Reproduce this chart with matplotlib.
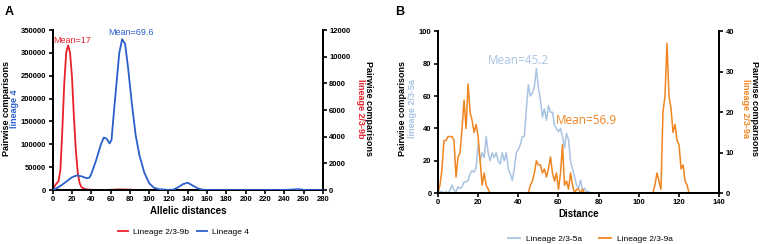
import matplotlib
matplotlib.use("Agg")
import matplotlib.pyplot as plt
from matplotlib.lines import Line2D

plt.rcParams['font.family'] = ['Liberation Sans', 'DejaVu Sans']

# ---- panel A data (allelic distances) ----
red_x = [0, 2, 4, 6, 8, 10, 12, 14, 16, 18, 20, 22, 24, 26, 28, 30, 34, 40, 50, 60, 70, 80, 90, 100, 280]
red_y = [0, 300, 500, 650, 1500, 4500, 8000, 10300, 10850, 10300, 8500, 5500, 3000, 1300, 500, 200, 60, 20, 10, 20, 50, 30, 10, 0, 0]

blue_x = [0, 5, 10, 15, 20, 25, 30, 35, 38, 40, 45, 50, 53, 56, 59, 61, 63, 66, 69, 72, 75, 78, 82, 86, 90, 95, 100,
          105, 110, 120, 125, 130, 135, 140, 145, 150, 155, 160, 180, 240, 250, 255, 260, 280]
blue_y = [0, 5000, 12000, 20000, 28000, 32000, 30000, 26000, 27000, 35000, 65000, 100000, 115000, 112000, 102000,
          110000, 160000, 230000, 300000, 330000, 320000, 270000, 190000, 120000, 75000, 38000, 15000,
          5000, 2000, 500, 1000, 6000, 13000, 16000, 10000, 4000, 1000, 300, 100, 300, 1500, 2000, 500, 0]

# ---- panel B data (distance) ----
lb_x = list(range(0, 77))
lb_y = [0, 1, 1, 0, 1, 0, 2, 5, 2, 1, 4, 3, 4, 7, 7, 8, 12, 14, 13, 16,
        30, 20, 25, 22, 35, 25, 20, 25, 22, 25, 20, 18, 25, 20, 25, 15, 12, 8, 15, 25,
        27, 30, 35, 35, 52, 67, 60, 62, 66, 77, 65, 58, 47, 52, 45, 54, 50, 50, 42, 40,
        38, 40, 35, 28, 37, 33, 20, 15, 10, 5, 3, 8, 2, 3, 1, 1, 0]

or_x = list(range(0, 126))
or_y = ([0, 2, 6, 13, 13, 14, 14, 14, 13, 4, 9, 10, 16, 23, 16, 27, 20, 18, 15, 17,
         14, 8, 2, 5, 2, 1] + [0] * 20 +
        [2, 3, 5, 8, 7, 7, 5, 6, 4, 6, 9, 5, 3, 5, 1, 5, 12, 2, 3, 1, 5, 2, 0, 1, 1, 0, 1] +
        [0] * 35 +
        [2, 5, 3, 1, 20, 24, 37, 24, 21, 15, 17, 13, 12, 6, 7, 3, 2, 0])
or_x = or_x[:len(or_y)]

RED = '#e8202a'
BLUE = '#2b5fcc'
LBLUE = '#a9c4e2'
ORANGE = '#f08520'

fig = plt.figure(figsize=(7.59, 2.44), dpi=100)


def style_axes(ax, ax2):
    for a in (ax, ax2):
        a.spines['top'].set_visible(False)
        for s in ('left', 'right', 'bottom'):
            a.spines[s].set_linewidth(1.4)
        a.tick_params(width=1.2, length=3, labelsize=5.5, pad=1.5)
        for lab in a.get_xticklabels() + a.get_yticklabels():
            lab.set_fontweight('bold')


# ---- panel A ----
axA = fig.add_axes([0.0694, 0.221, 0.356, 0.656])
axA2 = axA.twinx()
axA.plot(blue_x, blue_y, color=BLUE, lw=1.3, zorder=3)
axA2.plot(red_x, red_y, color=RED, lw=1.3)
axA.set_zorder(axA2.get_zorder() + 1)
axA.patch.set_visible(False)
axA.set_xlim(0, 280)
axA.set_ylim(0, 350000)
axA2.set_ylim(0, 12000)
axA.set_xticks(range(0, 281, 20))
axA.set_yticks(range(0, 350001, 50000))
axA2.set_yticks(range(0, 12001, 2000))
style_axes(axA, axA2)
axA.set_xlabel('Allelic distances', fontsize=7, fontweight='bold', labelpad=2)
axA.text(20, 328000, 'Mean=17', color=RED, fontsize=6.5, ha='center', va='center')
axA.text(81, 345000, 'Mean=69.6', color=BLUE, fontsize=6.5, ha='center', va='center')

fig.text(0.008, 0.555, 'Pairwise comparisons', rotation=90, fontsize=6.5, fontweight='bold', ha='center', va='center')
fig.text(0.019, 0.555, 'lineage 4', rotation=90, fontsize=6.5, fontweight='bold', color=BLUE, ha='center', va='center')
fig.text(0.486, 0.555, 'Pairwise comparisons', rotation=-90, fontsize=6.5, fontweight='bold', ha='center', va='center')
fig.text(0.475, 0.555, 'lineage 2/3-9b', rotation=-90, fontsize=6.5, fontweight='bold', color=RED, ha='center', va='center')
fig.text(0.006, 0.975, 'A', fontsize=9, fontweight='bold', va='top')

legA = [Line2D([], [], color=RED, lw=1.3), Line2D([], [], color=BLUE, lw=1.3)]
fig.legend(legA, ['Lineage 2/3-9b', 'Lineage 4'], loc='center', bbox_to_anchor=(0.242, 0.05),
           ncol=2, frameon=False, fontsize=6, handlelength=1.2, columnspacing=1.0, handletextpad=0.6)

# ---- panel B ----
axB = fig.add_axes([0.577, 0.208, 0.3706, 0.664])
axB2 = axB.twinx()
axB.plot(lb_x, lb_y, color=LBLUE, lw=1.1)
axB2.plot(or_x, or_y, color=ORANGE, lw=1.1)
axB.set_xlim(0, 140)
axB.set_ylim(0, 100)
axB2.set_ylim(0, 40)
axB.set_xticks(range(0, 141, 20))
axB.set_yticks(range(0, 101, 20))
axB2.set_yticks(range(0, 41, 10))
style_axes(axB, axB2)
axB.set_xlabel('Distance', fontsize=7, fontweight='bold', labelpad=2)
axB.text(40.3, 81.7, 'Mean=45.2', color=LBLUE, fontsize=8.5, ha='center', va='center', family=['Open Sans', 'DejaVu Sans'])
axB.text(74, 44.6, 'Mean=56.9', color=ORANGE, fontsize=8.5, ha='center', va='center', family=['Open Sans', 'DejaVu Sans'])

fig.text(0.530, 0.555, 'Pairwise comparisons', rotation=90, fontsize=6.5, fontweight='bold', ha='center', va='center')
fig.text(0.544, 0.555, 'lineage 2/3-5a', rotation=90, fontsize=6.5, fontweight='bold', color=LBLUE, ha='center', va='center')
fig.text(0.994, 0.555, 'Pairwise comparisons', rotation=-90, fontsize=6.5, fontweight='bold', ha='center', va='center')
fig.text(0.982, 0.555, 'lineage 2/3-9a', rotation=-90, fontsize=6.5, fontweight='bold', color=ORANGE, ha='center', va='center')
fig.text(0.521, 0.975, 'B', fontsize=9, fontweight='bold', va='top')

legB = [Line2D([], [], color=LBLUE, lw=1.3), Line2D([], [], color=ORANGE, lw=1.3)]
fig.legend(legB, ['Lineage 2/3-5a', 'Lineage 2/3-9a'], loc='center', bbox_to_anchor=(0.778, 0.022),
           ncol=2, frameon=False, fontsize=6, handlelength=1.4, columnspacing=2.0, handletextpad=0.8)

fig.savefig('out.png', dpi=100)
